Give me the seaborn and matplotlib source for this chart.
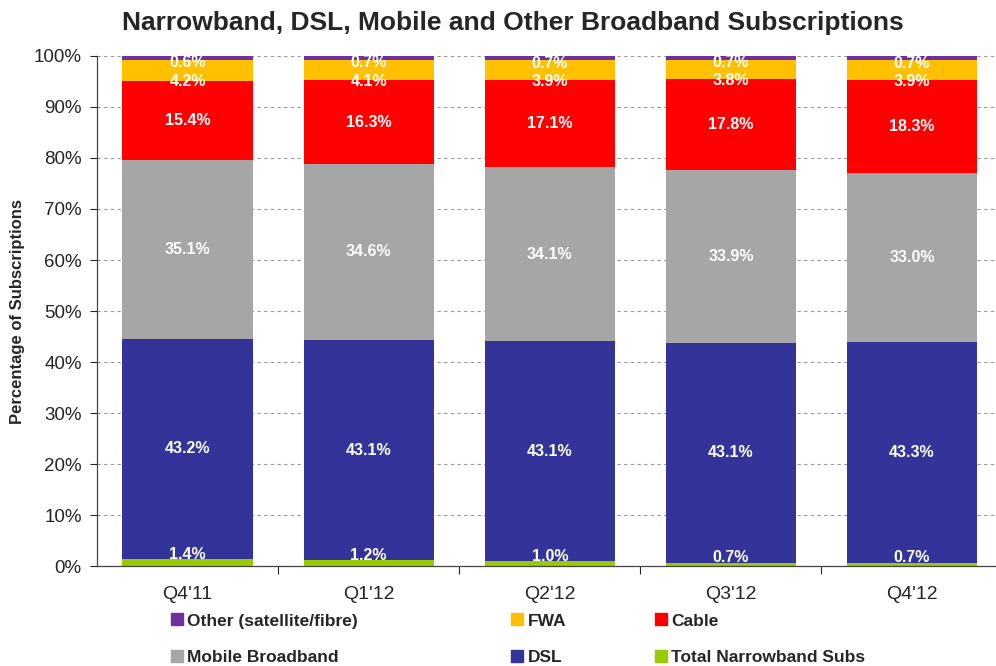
import numpy as np
import pandas as pd
import matplotlib.pyplot as plt
import seaborn as sns
from matplotlib.lines import Line2D
from matplotlib.ticker import FixedLocator

quarters = ["Q4'11", "Q1'12", "Q2'12", "Q3'12", "Q4'12"]
narrowband = [1.4, 1.2, 1.0, 0.7, 0.7]
dsl = [43.2, 43.1, 43.1, 43.1, 43.3]
mobile = [35.1, 34.6, 34.1, 33.9, 33.0]
cable = [15.4, 16.3, 17.1, 17.8, 18.3]
fwa = [4.2, 4.1, 3.9, 3.8, 3.9]
other = [0.6, 0.7, 0.7, 0.7, 0.7]

names = ['Total Narrowband Subs', 'DSL', 'Mobile Broadband', 'Cable', 'FWA', 'Other (satellite/fibre)']
colors = ['#99CC00', '#333399', '#A6A6A6', '#FF0000', '#FFC000', '#7030A0']
series = [narrowband, dsl, mobile, cable, fwa, other]

sns.set_style("white")
plt.rcParams['font.family'] = ['Liberation Sans', 'DejaVu Sans']

# stack the layers: cumulative tops, drawn from the tallest one down
tops = np.cumsum(np.array(series), axis=0)
bottoms = tops - np.array(series)

fig = plt.figure(figsize=(9.96, 6.66), dpi=100)
ax = fig.add_axes([0.0975, 0.150, 0.909, 0.766])

for i in range(len(series) - 1, -1, -1):
    df = pd.DataFrame({'quarter': quarters, 'top': tops[i]})
    sns.barplot(data=df, x='quarter', y='top', color=colors[i], width=0.72,
                saturation=1, linewidth=0, ax=ax, zorder=2)

# value labels
for i, vals in enumerate(series):
    for j, v in enumerate(vals):
        y = bottoms[i][j] + v / 2
        if i == 0:
            y = tops[i][j] + 0.9
        elif i == 5:
            y = bottoms[i][j] - 0.6
        elif i == 4:
            y = bottoms[i][j] + v / 2 - 2.3
        ax.text(j, y, f'{v:.1f}%', ha='center', va='center', color='white',
                fontsize=11.5, fontweight='bold', zorder=5)

ax.set_ylim(0, 100)
ax.set_xlim(-0.5, 4.5)
ax.set_yticks(np.arange(0, 101, 10))
ax.set_yticklabels([f'{t}%' for t in range(0, 101, 10)], fontsize=13.5)
ax.yaxis.grid(True, linestyle=(0, (3, 3)), color='#999999', linewidth=0.8, zorder=0)
ax.set_axisbelow(True)
ax.tick_params(axis='y', length=5, width=0.8, left=True, direction='out', pad=6)

ax.set_xticks(range(len(quarters)))
ax.set_xticklabels(quarters, fontsize=14)
ax.xaxis.set_minor_locator(FixedLocator([0.5, 1.5, 2.5, 3.5]))
ax.tick_params(axis='x', which='major', length=0, pad=14)
ax.tick_params(axis='x', which='minor', length=6, width=0.8, bottom=True, direction='out')

for s in ['top', 'right']:
    ax.spines[s].set_visible(False)
for s in ['left', 'bottom']:
    ax.spines[s].set_color('#444444')
    ax.spines[s].set_linewidth(0.9)

ax.set_xlabel('')
ax.set_ylabel('Percentage of Subscriptions', fontsize=12, fontweight='bold', labelpad=6)

fig.text(0.515, 0.966, 'Narrowband, DSL, Mobile and Other Broadband Subscriptions',
         ha='center', va='center', fontsize=19, fontweight='bold')

# legend in three columns: Other/Mobile, FWA/DSL, Cable/Narrowband
columns = [[5, 2], [4, 1], [3, 0]]
col_x = [0.172, 0.514, 0.658]
for cols, x in zip(columns, col_x):
    handles = [Line2D([], [], marker='s', linestyle='', markersize=8,
                      markerfacecolor=colors[k], markeredgecolor=colors[k]) for k in cols]
    fig.legend(handles, [names[k] for k in cols], loc='upper left',
               bbox_to_anchor=(x, 0.079), frameon=False,
               prop={'weight': 'bold', 'size': 12.5}, borderaxespad=0, borderpad=0,
               handlelength=0.6, handletextpad=0.3, labelspacing=1.25)

fig.savefig('out.png', dpi=100)
